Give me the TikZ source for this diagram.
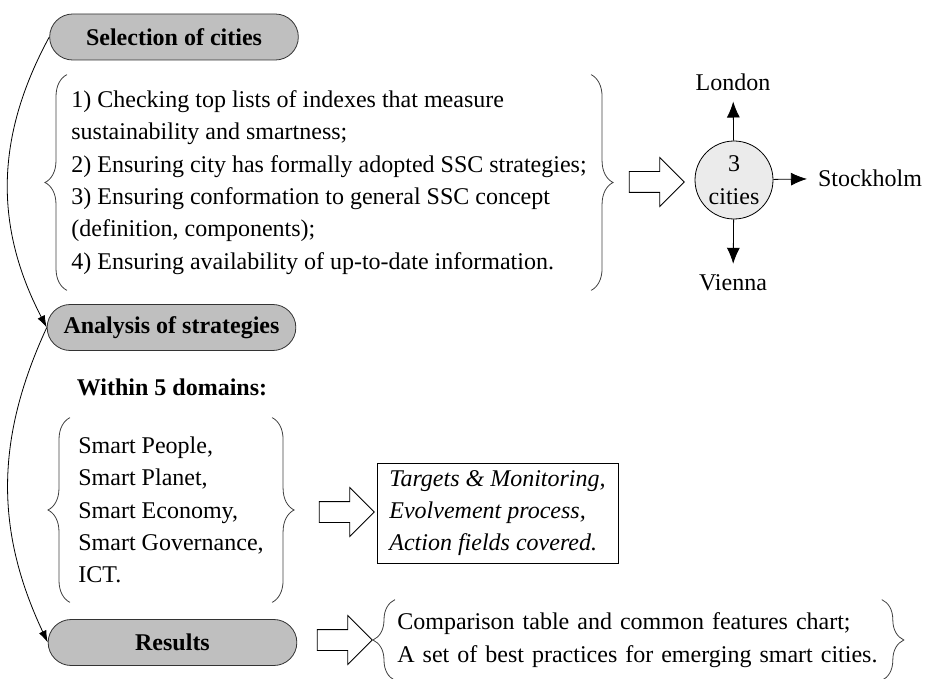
\documentclass[tikz,border=0pt]{standalone}
\usepackage{fontspec}
\setmainfont{Liberation Serif}
\usepackage{tikz}
\usetikzlibrary{positioning,arrows.meta,shapes.misc,shapes.arrows,decorations.pathreplacing}
\newcommand{\figfont}{\fontsize{12}{16.2}\selectfont}
\tikzstyle{every node} = [font=\figfont]
\tikzstyle{stage}  = [rounded rectangle, draw=black!80, fill=black!25, minimum width=131pt, minimum height=23pt, font=\figfont\bfseries]
\tikzstyle{block}  = [align=left, anchor=west, inner xsep=2pt, inner ysep=0pt]
\tikzstyle{curly}  = [decorate, decoration={brace, amplitude=11pt}, draw=black!75]
\tikzstyle{hollow} = [single arrow, draw, fill=white, minimum height=27.5pt, single arrow head extend=7pt, inner xsep=0pt, inner ysep=5pt]
\tikzstyle{arrow}  = [-{Latex[length=8pt,width=6.5pt]}, shorten >=2pt]
\tikzstyle{flow}   = [-{Latex[length=6pt,width=4pt]}]

\begin{document}
\begin{tikzpicture}[x=0.5pt, y=-0.5pt]
        \useasboundingbox (0,0) rectangle (925,679);

        \node[stage] (sel) at (174,37) {Selection of cities};
        \node[stage] (ana) at (171.5,327.5) {Analysis of strategies};
        \node[stage] (res) at (172.5,642.5) {Results};

        \draw[flow] (sel.west) to[bend right=28] (ana.west);
        \draw[flow] (ana.west) to[bend right=25] (res.west);

        \node[block, minimum height=107.5pt] (crit) at (67,182.5) {1) Checking top lists of indexes that measure\\
            sustainability and smartness;\\
            2) Ensuring city has formally adopted SSC strategies;\\
            3) Ensuring conformation to general SSC concept\\
            (definition, components);\\
            4) Ensuring availability of up-to-date information.};
        \draw[curly] (crit.south west) -- (crit.north west);
        \draw[curly] (crit.north east) -- (crit.south east);

        \node[hollow] (ha1) at (651.5,182) {};
        \node[circle, draw, fill=black!8, minimum size=39pt, inner sep=0pt, align=center] (cities) at (734,180) {3\\cities};
        \node (london) at (733,82) {London};
        \node (stockholm) at (870,178) {Stockholm};
        \node (vienna) at (733,283) {Vienna};
        \draw[arrow] (cities) -- (london);
        \draw[arrow] (cities) -- (stockholm);
        \draw[arrow] (cities) -- (vienna);

        \node[font=\figfont\bfseries] (dom) at (172,387) {Within 5 domains:};

        \node[block, inner xsep=4pt, minimum height=92pt] (areas) at (70,510) {Smart People,\\
            Smart Planet,\\
            Smart Economy,\\
            Smart Governance,\\
            ICT.};
        \draw[curly] (areas.south west) -- (areas.north west);
        \draw[curly] (areas.north east) -- (areas.south east);

        \node[hollow] (ha2) at (341.5,512) {};
        \node[draw, align=left, minimum width=120.5pt, minimum height=50pt, font=\figfont\itshape] (aspects) at (497.5,513) {Targets \& Monitoring,\\
            Evolvement process,\\
            Action fields covered.};

        \node[hollow] (ha3) at (339.5,640) {};
        \node[block, text width=241pt, inner xsep=1pt, minimum height=40pt] (outcome) at (395,640) {Comparison table and common features chart;\\
            A set of best practices for emerging smart cities.};
        \draw[curly] (outcome.south west) -- (outcome.north west);
        \draw[curly] (outcome.north east) -- (outcome.south east);
    \end{tikzpicture}
\end{document}
